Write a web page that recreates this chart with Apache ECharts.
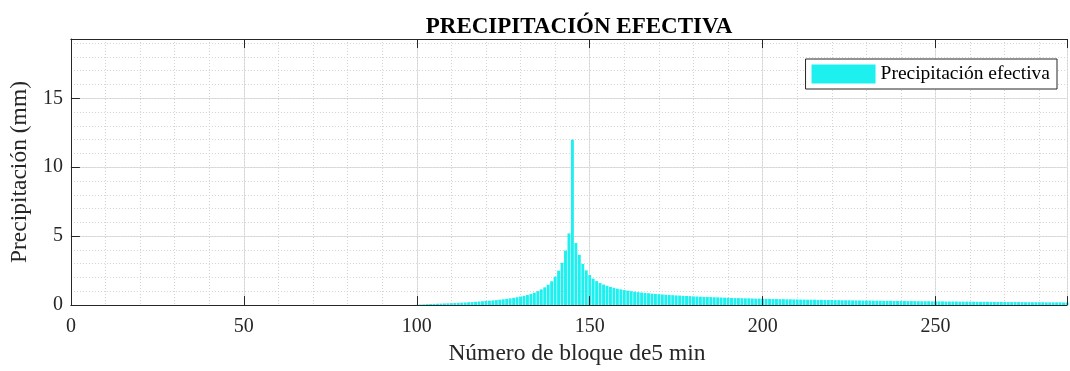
<!DOCTYPE html>
<html>
<head>
<meta charset="utf-8">
<title>Precipitación efectiva</title>
<script src="https://cdn.jsdelivr.net/npm/echarts@6/dist/echarts.min.js"></script>
<style>
  html, body { margin: 0; padding: 0; background: #ffffff; }
  #chart { width: 1070px; height: 371px; }
</style>
</head>
<body>
<div id="chart"></div>
<script>
// Effective precipitation (mm) per 5-minute block, 288 blocks (24 h).
// Blocks 1-99: all rainfall absorbed by initial losses.
const effLeading = [
  0, 0, 0, 0, 0, 0, 0, 0, 0, 0, 0, 0, 0, 0, 0, 0, 0, 0, 0, 0,
  0, 0, 0, 0, 0, 0, 0, 0, 0, 0, 0, 0, 0, 0, 0, 0, 0, 0, 0, 0,
  0, 0, 0, 0, 0, 0, 0, 0, 0, 0, 0, 0, 0, 0, 0, 0, 0, 0, 0, 0,
  0, 0, 0, 0, 0, 0, 0, 0, 0, 0, 0, 0, 0, 0, 0, 0, 0, 0, 0, 0,
  0, 0, 0, 0, 0, 0, 0, 0, 0, 0, 0, 0, 0, 0, 0, 0, 0, 0, 0
];
// Blocks 100-144: rising limb
const effRising = [
  0.02, 0.04, 0.05, 0.07, 0.08, 0.09, 0.10, 0.11, 0.12, 0.13,
  0.14, 0.15, 0.16, 0.18, 0.19, 0.21, 0.22, 0.24, 0.26, 0.28,
  0.30, 0.32, 0.34, 0.36, 0.39, 0.42, 0.45, 0.49, 0.53, 0.57,
  0.62, 0.67, 0.73, 0.81, 0.90, 1.01, 1.14, 1.29, 1.48, 1.73,
  2.06, 2.50, 3.07, 3.95, 5.20
];
// Block 145: peak
const effPeak = [12.0];
// Blocks 146-288: recession
const effRecession = [
  4.50, 3.65, 2.98, 2.52, 2.18, 1.92, 1.74, 1.60, 1.49, 1.40,
  1.32, 1.25, 1.19, 1.14, 1.09, 1.05, 1.01, 0.97, 0.94, 0.91,
  0.88, 0.86, 0.83, 0.81, 0.79, 0.77, 0.75, 0.73, 0.72, 0.70,
  0.69, 0.67, 0.66, 0.65, 0.63, 0.62, 0.61, 0.60, 0.59, 0.58,
  0.57, 0.56, 0.55, 0.54, 0.53, 0.52, 0.51, 0.51, 0.50, 0.49,
  0.49, 0.48, 0.47, 0.47,
  0.46, 0.45, 0.45, 0.44, 0.44, 0.43, 0.43, 0.42, 0.42, 0.41,
  0.41, 0.40, 0.40, 0.39, 0.39, 0.39, 0.38, 0.38, 0.37, 0.37,
  0.37, 0.36, 0.36, 0.35, 0.35, 0.35, 0.34, 0.34, 0.34, 0.33,
  0.33, 0.33, 0.32, 0.32, 0.32, 0.31, 0.31, 0.31, 0.30, 0.30,
  0.30, 0.30, 0.29, 0.29, 0.29, 0.28, 0.28, 0.28, 0.28, 0.27,
  0.27, 0.27, 0.27, 0.26, 0.26, 0.26, 0.26, 0.25, 0.25, 0.25,
  0.25, 0.25, 0.24, 0.24, 0.24, 0.24, 0.23, 0.23, 0.23, 0.23,
  0.23, 0.22, 0.22, 0.22, 0.22, 0.22, 0.21, 0.21, 0.21, 0.21,
  0.21, 0.21, 0.20, 0.20, 0.20, 0.20, 0.20, 0.19, 0.19
];

const xTicks = [0, 50, 100, 150, 200, 250];
const yTicks = [0, 5, 10, 15];

const titleText = 'PRECIPITACIÓN EFECTIVA';
const xLabel = 'Número de bloque de5 min';
const yLabel = 'Precipitación (mm)';
const seriesName = 'Precipitación efectiva';

const effective = effLeading.concat(effRising, effPeak, effRecession);
const barData = effective.map((v, i) => [i + 1, v]);

const FONT = 'Liberation Serif';
const INK = '#262626';
const X_MAX = 288;
const Y_MAX = 19.3;

const chart = echarts.init(document.getElementById('chart'), null, { renderer: 'canvas' });

const hidden = { show: false };
const tickInside = { show: true, inside: true, length: 9, lineStyle: { color: INK, width: 1 } };

chart.setOption({
  animation: false,
  backgroundColor: '#ffffff',
  title: {
    text: titleText,
    left: 574,
    top: 11,
    textAlign: 'center',
    textStyle: { fontFamily: FONT, fontWeight: 'bold', fontSize: 23, color: '#000000' }
  },
  legend: {
    data: [seriesName],
    right: 13,
    top: 59,
    orient: 'vertical',
    icon: 'rect',
    itemWidth: 64,
    itemHeight: 19,
    padding: [5, 7, 5, 6],
    borderColor: INK,
    borderWidth: 1,
    backgroundColor: '#ffffff',
    textStyle: { fontFamily: FONT, fontSize: 19.5, color: '#000000' }
  },
  grid: { left: 69, top: 39, width: 1006, height: 270, containLabel: false },
  xAxis: [
    {
      // bottom axis with ticks and labels
      type: 'value', min: 0, max: X_MAX, interval: 50, position: 'bottom', z: 3,
      axisLine: { show: true, onZero: false, lineStyle: { color: INK, width: 1 } },
      axisTick: tickInside,
      axisLabel: {
        fontFamily: FONT, fontSize: 20, color: INK, margin: 12,
        formatter: v => (xTicks.indexOf(v) >= 0 ? String(v) : '')
      },
      splitLine: hidden,
      name: xLabel,
      nameLocation: 'middle',
      nameGap: 33,
      nameTextStyle: { fontFamily: FONT, fontSize: 23.5, color: INK, padding: [0, 0, 0, 16] }
    },
    {
      // top box edge with inward ticks
      type: 'value', min: 0, max: X_MAX, interval: 50, position: 'top', z: 3,
      axisLine: { show: true, onZero: false, lineStyle: { color: INK, width: 1 } },
      axisTick: tickInside,
      axisLabel: hidden,
      splitLine: hidden
    },
    {
      // major vertical grid
      type: 'value', min: 0, max: X_MAX, interval: 50, position: 'bottom', z: 0,
      axisLine: hidden, axisTick: hidden, axisLabel: hidden,
      splitLine: { show: true, lineStyle: { color: '#e0e0e0', width: 1, type: 'solid' } }
    },
    {
      // minor vertical grid
      type: 'value', min: 0, max: X_MAX, interval: 10, position: 'bottom', z: 0,
      axisLine: hidden, axisTick: hidden, axisLabel: hidden,
      splitLine: { show: true, lineStyle: { color: '#d2d2d2', width: 1, type: [1, 2] } }
    }
  ],
  yAxis: [
    {
      type: 'value', min: 0, max: Y_MAX, interval: 5, position: 'left', z: 3,
      axisLine: { show: true, onZero: false, lineStyle: { color: INK, width: 1 } },
      axisTick: tickInside,
      axisLabel: {
        fontFamily: FONT, fontSize: 20, color: INK, margin: 8,
        formatter: v => (yTicks.indexOf(v) >= 0 ? String(v) : '')
      },
      splitLine: hidden,
      name: yLabel,
      nameLocation: 'middle',
      nameGap: 33,
      nameRotate: 90,
      nameTextStyle: { fontFamily: FONT, fontSize: 23.5, color: INK }
    },
    {
      // major horizontal grid
      type: 'value', min: 0, max: Y_MAX, interval: 5, position: 'left', z: 0,
      axisLine: hidden, axisTick: hidden, axisLabel: hidden,
      splitLine: { show: true, lineStyle: { color: '#e0e0e0', width: 1, type: 'solid' } }
    },
    {
      // minor horizontal grid
      type: 'value', min: 0, max: Y_MAX, interval: 1, position: 'left', z: 0,
      axisLine: hidden, axisTick: hidden, axisLabel: hidden,
      splitLine: { show: true, lineStyle: { color: '#d2d2d2', width: 1, type: [1, 2] } }
    }
  ],
  series: [
    {
      name: seriesName,
      type: 'bar',
      xAxisIndex: 0,
      yAxisIndex: 0,
      data: barData,
      barWidth: 2.9,
      itemStyle: { color: '#1ef0f0' },
      emphasis: { disabled: true },
      silent: true,
      z: 2
    }
  ]
});
</script>
</body>
</html>
